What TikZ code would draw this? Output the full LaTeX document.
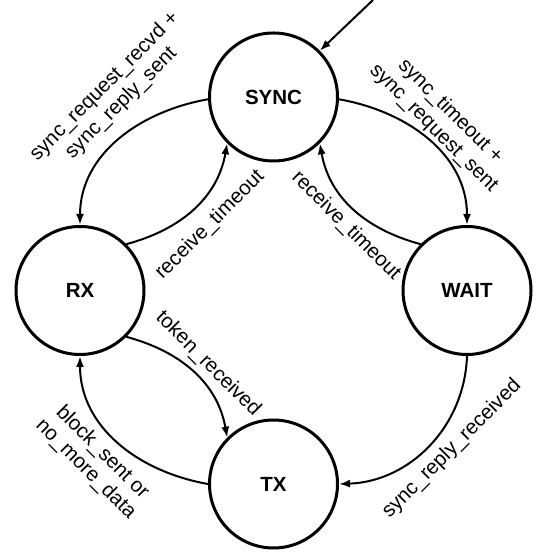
\documentclass[tikz,border=0pt]{standalone}
\usepackage{fontspec}
\setmainfont{Liberation Sans}
\usetikzlibrary{arrows.meta}
\begin{document}
\begin{tikzpicture}[x=1pt,y=1pt,
  state/.style={circle,draw,line width=3pt,minimum size=128pt,inner sep=0pt,font=\fontsize{20.5}{23.5}\selectfont\bfseries},
  trans/.style={line width=2pt,-{Latex[length=11pt,width=8pt]}},
  lbl/.style={font=\fontsize{20.5}{23.5}\selectfont,align=center,inner sep=0pt}]
\useasboundingbox (0,0) rectangle (537,556);
\node[state] (sync) at (273.5,459) {SYNC};
\node[state] (rx)   at (80,265.5) {RX};
\node[state] (wait) at (467,265.5) {WAIT};
\node[state] (tx)   at (273.5,72) {TX};
\coordinate (init) at (373,556);
\draw[trans] (init) -- (sync.45);
\draw[trans] (sync.182) to[out=190,in=90] (rx.90);
\draw[trans] (rx.45) to[out=15,in=260] (sync.225);
\draw[trans] (sync.-2) to[out=-10,in=90] (wait.90);
\draw[trans] (wait.135) to[out=165,in=280] (sync.315);
\draw[trans] (rx.-45) to[out=-15,in=100] (tx.135);
\draw[trans] (tx.180) to[out=170,in=-90] (rx.270);
\draw[trans] (wait.270) to[out=-92,in=2] (tx.0);
\node[lbl,rotate=45] (l1) at (113,461) {sync\_request\_recvd +\\sync\_reply\_sent};
\node[lbl,rotate=-45] (l2) at (442,436) {sync\_timeout +\\sync\_request\_sent};
\node[lbl,rotate=45] (l3) at (210,331) {receive\_timeout};
\node[lbl,rotate=-45] (l4) at (346,330) {receive\_timeout};
\node[lbl,rotate=-45] (l5) at (208,192) {token\_received};
\node[lbl,rotate=-45] (l6) at (94,95) {block\_sent or\\no\_more\_data};
\node[lbl,rotate=45] (l7) at (452,107) {sync\_reply\_received};
\end{tikzpicture}
\end{document}
